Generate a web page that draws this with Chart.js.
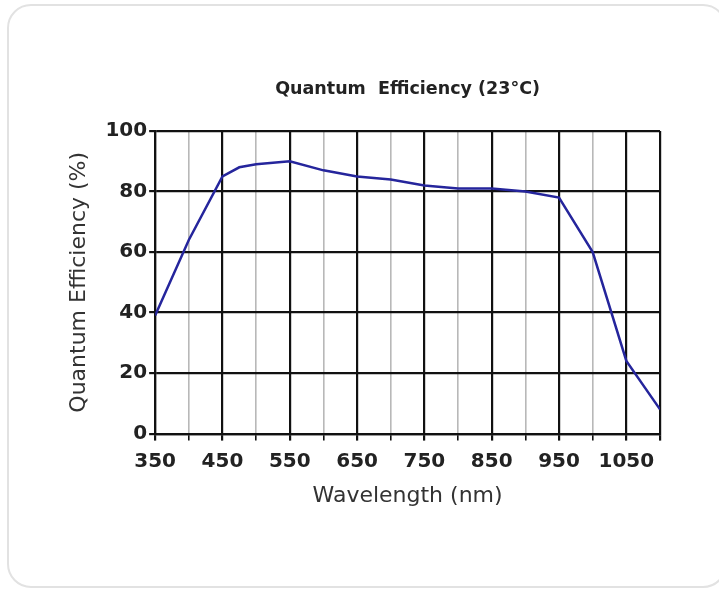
<!DOCTYPE html>
<html>
<head>
<meta charset="utf-8">
<script src="https://cdn.jsdelivr.net/npm/chart.js@4/dist/chart.umd.min.js"></script>
<style>
  html, body { margin: 0; padding: 0; background: #fff; }
  body { width: 719px; height: 592px; position: relative; overflow: hidden; }
  .card {
    position: absolute; left: 7px; top: 4px; width: 720px; height: 584px;
    border: 2px solid #e2e2e2; border-radius: 24px; box-sizing: border-box;
  }
  #qeChart { position: absolute; left: 0; top: 0; }
</style>
</head>
<body>
<div class="card"></div>
<canvas id="qeChart" width="719" height="592"></canvas>
<script>
// values
const wavelengths = [350, 400, 450, 475, 500, 550, 600, 650, 700, 750, 800, 850, 900, 950, 1000, 1050, 1100];
const efficiency = [39, 64, 85, 88, 89, 90, 87, 85, 84, 82, 81, 81, 80, 78, 60, 24, 8];
const xTickLabels = [350, 450, 550, 650, 750, 850, 950, 1050];
const yTicks = [0, 20, 40, 60, 80, 100];

const FONT = "'DejaVu Sans', Verdana, sans-serif";
const tickFont = { family: FONT, size: 20, weight: "bold" };
const axisTitleFont = { family: FONT, size: 22 };
const isMajorX = v => (v - 350) % 100 === 0 || v === 1100;

new Chart(document.getElementById("qeChart"), {
  type: "line",
  data: {
    datasets: [{
      label: "Quantum Efficiency",
      data: wavelengths.map((w, i) => ({ x: w, y: efficiency[i] })),
      borderColor: "#25259c",
      borderWidth: 2.5,
      pointRadius: 0,
      tension: 0,
      fill: false
    }]
  },
  options: {
    responsive: false,
    animation: false,
    devicePixelRatio: 1,
    layout: { padding: { left: 66, right: 59, top: 79, bottom: 83 } },
    plugins: {
      legend: { display: false },
      tooltip: { enabled: false },
      title: { display: false }
    },
    scales: {
      x: {
        type: "linear",
        min: 350,
        max: 1100,
        ticks: {
          stepSize: 50,
          autoSkip: false,
          maxRotation: 0,
          padding: 9,
          color: "#222",
          font: tickFont,
          callback: v => xTickLabels.includes(v) ? String(v) : ""
        },
        grid: {
          color: ctx => ctx.tick && isMajorX(ctx.tick.value) ? "#111" : "#b8b8b8",
          lineWidth: ctx => ctx.tick && isMajorX(ctx.tick.value) ? 2.2 : 1.6,
          tickColor: "#111",
          tickLength: 7
        },
        border: { display: true, color: "#111", width: 2.2 },
        title: {
          display: true,
          text: "Wavelength (nm)",
          color: "#333",
          font: axisTitleFont,
          padding: { top: 0, bottom: 0 }
        }
      },
      // top axis only carries the chart title, centred over the plot area
      xTop: {
        type: "linear",
        position: "top",
        min: 350,
        max: 1100,
        ticks: { display: false },
        grid: { display: false, drawTicks: false },
        border: { display: false },
        title: {
          display: true,
          text: "Quantum  Efficiency (23°C)",
          color: "#222",
          font: { family: FONT, size: 17.5, weight: "bold" },
          padding: { top: 0, bottom: 31 }
        }
      },
      y: {
        min: 0,
        max: 100,
        afterBuildTicks: axis => { axis.ticks = yTicks.map(v => ({ value: v })); },
        ticks: {
          padding: 2,
          color: "#222",
          font: tickFont
        },
        grid: {
          color: "#111",
          lineWidth: 2.2,
          tickColor: "#111",
          tickLength: 6
        },
        border: { display: true, color: "#111", width: 2.2 },
        title: {
          display: true,
          text: "Quantum Efficiency (%)",
          color: "#333",
          font: axisTitleFont,
          padding: { top: 0, bottom: 11 }
        }
      }
    }
  }
});
</script>
</body>
</html>
